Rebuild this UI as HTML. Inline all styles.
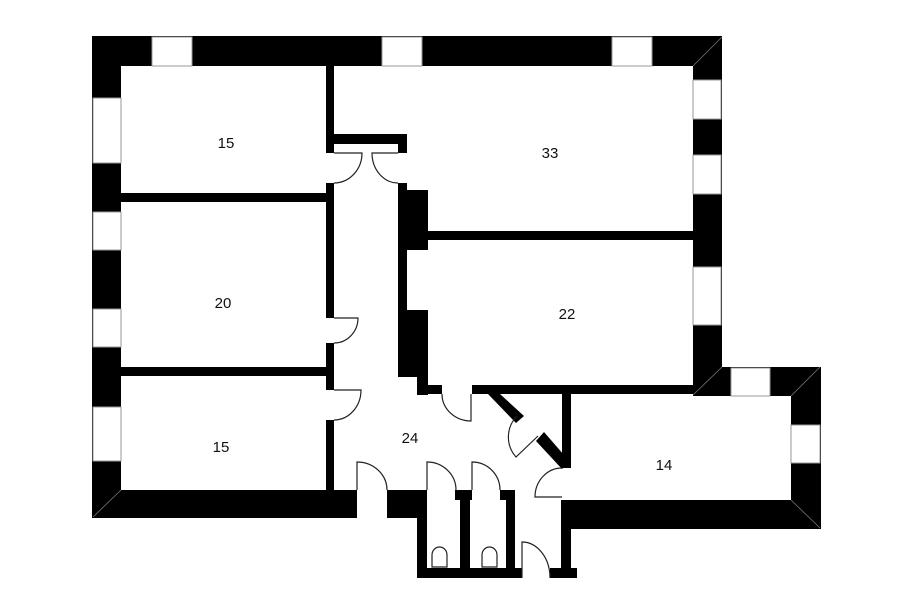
<!DOCTYPE html>
<html><head><meta charset="utf-8"><style>
html,body{margin:0;padding:0;background:#fff;width:900px;height:604px;overflow:hidden}
svg{display:block}
text{font-family:"Liberation Sans",sans-serif;font-size:15px;fill:#111}
</style></head><body>
<svg width="900" height="604" viewBox="0 0 900 604">
<g fill="#000">
<!-- outer walls -->
<rect x="92" y="36" width="630" height="30"/>
<rect x="92" y="36" width="29" height="482"/>
<rect x="92" y="490" width="265" height="28"/>
<rect x="693" y="36" width="29" height="360"/>
<rect x="693" y="367" width="128" height="29"/>
<rect x="791" y="367" width="30" height="162"/>
<rect x="561" y="500" width="260" height="29"/>
<!-- interior -->
<rect x="326" y="66" width="8" height="87"/>
<rect x="326" y="183" width="8" height="135"/>
<rect x="326" y="343" width="8" height="47"/>
<rect x="326" y="420" width="8" height="70"/>
<rect x="121" y="193" width="205" height="9"/>
<rect x="121" y="367" width="205" height="9"/>
<rect x="334" y="134" width="73" height="10"/>
<rect x="398" y="134" width="9" height="19"/>
<rect x="398" y="183" width="9" height="194"/>
<rect x="407" y="190" width="21" height="60"/>
<rect x="407" y="310" width="21" height="67"/>
<rect x="428" y="231" width="265" height="9"/>
<rect x="417" y="377" width="11" height="18"/>
<rect x="417" y="385" width="25" height="9"/>
<rect x="472" y="385" width="221" height="9"/>
<rect x="562" y="394" width="9" height="74"/>
<polygon points="488,394 500,394 524,416 516,423"/>
<polygon points="536,441 544,432 570,462 562,469"/>
<rect x="561" y="529" width="10" height="49"/>
<rect x="550" y="568" width="27" height="10"/>
<rect x="320" y="490" width="37" height="28"/>
<rect x="387" y="490" width="40" height="28"/>
<rect x="417" y="490" width="10" height="88"/>
<rect x="417" y="568" width="105" height="10"/>
<rect x="455" y="490" width="17" height="10"/>
<rect x="460" y="490" width="10" height="88"/>
<rect x="500" y="490" width="15" height="10"/>
<rect x="506" y="490" width="9" height="88"/>
</g>
<!-- windows -->
<g fill="#fff" stroke="#999" stroke-width="1">
<rect x="152" y="37" width="40" height="29"/>
<rect x="382" y="37" width="40" height="29"/>
<rect x="612" y="37" width="40" height="29"/>
<rect x="93" y="98" width="28" height="65"/>
<rect x="93" y="212" width="28" height="38"/>
<rect x="93" y="309" width="28" height="38"/>
<rect x="93" y="407" width="28" height="54"/>
<rect x="693" y="80" width="28" height="39"/>
<rect x="693" y="155" width="28" height="39"/>
<rect x="693" y="267" width="28" height="58"/>
<rect x="731" y="368" width="39" height="28"/>
<rect x="791" y="425" width="29" height="38"/>
</g>
<!-- corner diagonals -->
<g stroke="#777" stroke-width="0.8">
<line x1="693" y1="66" x2="722" y2="37"/>
<line x1="693" y1="395" x2="722" y2="367"/>
<line x1="791" y1="396" x2="820" y2="367"/>
<line x1="791" y1="500" x2="820" y2="528"/>
<line x1="93" y1="517" x2="121" y2="490"/>
</g>
<!-- doors -->
<g fill="none" stroke="#222" stroke-width="1.2">
<path d="M334,153 L362,153 A28,30 0 0 1 334,183"/>
<path d="M398,153 L372,153 A26,30 0 0 0 398,183"/>
<path d="M334,318 L358,318 A24,25 0 0 1 334,343"/>
<path d="M334,390 L361,390 A27,30 0 0 1 334,420"/>
<path d="M471,394 L471,421 A29,27 0 0 1 442,394"/>
<path d="M538,436 L516,457 A30,30 0 0 1 517,416"/>
<path d="M562,497 L535,497 A27,29 0 0 1 562,468"/>
<path d="M357,490 L357,462 A30,28 0 0 1 387,490"/>
<path d="M427,490 L427,462 A29,28 0 0 1 456,490"/>
<path d="M472,490 L472,462 A28,28 0 0 1 500,490"/>
<path d="M522,578 L522,542 A28,36 0 0 1 550,578"/>
<path d="M432,567 L432,555 A7.5,8 0 0 1 447,555 L447,567 Z"/>
<path d="M482,567 L482,555 A7.5,8 0 0 1 497,555 L497,567 Z"/>
</g>
<g text-anchor="middle">
<text x="226" y="148">15</text>
<text x="550" y="158">33</text>
<text x="223" y="308">20</text>
<text x="567" y="319">22</text>
<text x="221" y="452">15</text>
<text x="410" y="443">24</text>
<text x="664" y="470">14</text>
</g>
</svg>
</body></html>
